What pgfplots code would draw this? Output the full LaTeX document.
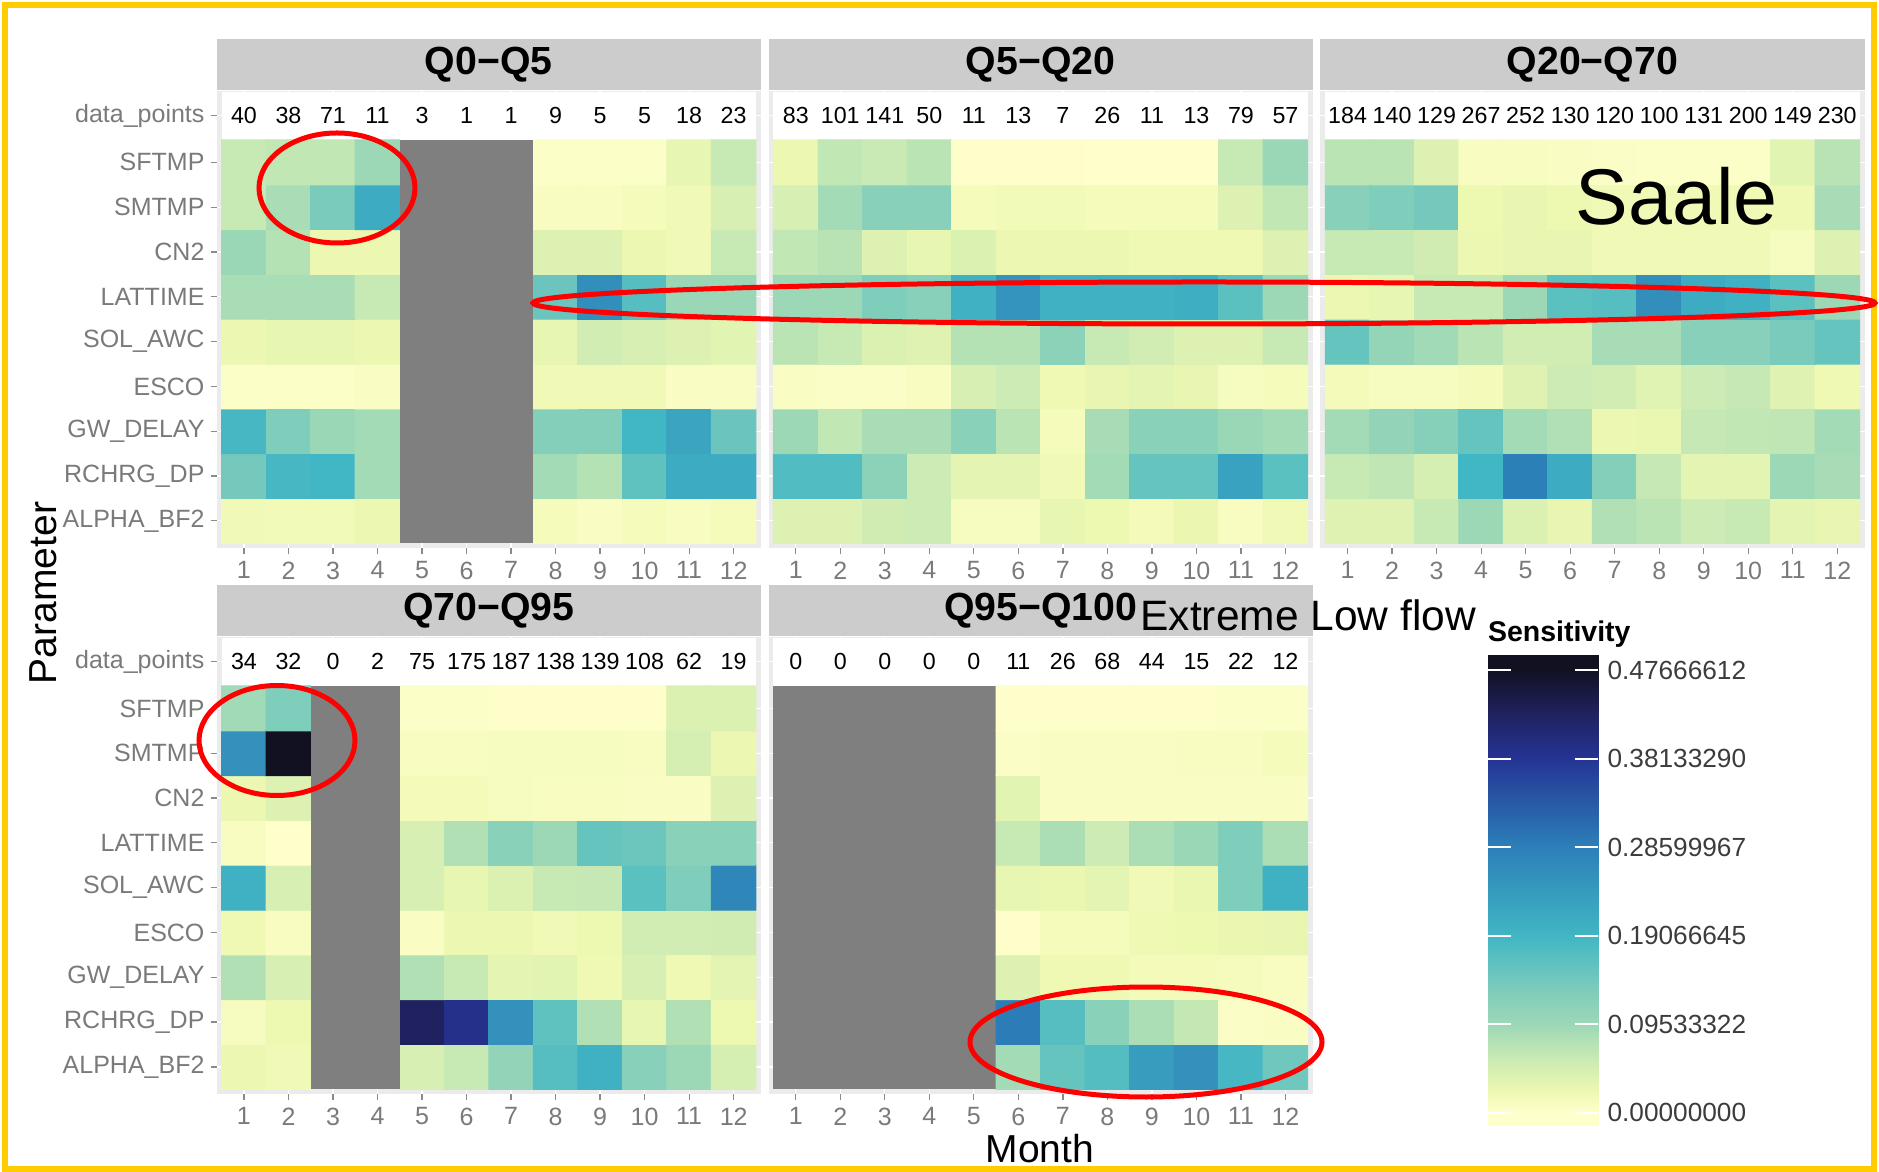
\documentclass[border=0pt]{standalone}
\usepackage{fontspec}
\setmainfont{Liberation Sans}
\usepackage{pgfplots}
\pgfplotsset{compat=1.18}

\definecolor{stripgray}{HTML}{CCCCCC}
\definecolor{panelgray}{HTML}{EBEBEB}
\definecolor{nagray}{HTML}{7F7F7F}
\definecolor{ticklab}{HTML}{7A7A7A}
\definecolor{tickgray}{HTML}{8A8A8A}
\definecolor{leglab}{HTML}{3C3C3C}
\definecolor{goldframe}{HTML}{FFCC00}

\newcommand\tickfont{\fontsize{10}{12}\selectfont}
\newcommand\numfont{\fontsize{9.3}{11}\selectfont}
\newcommand\stripfont{\bfseries\fontsize{15.7}{18}\selectfont}

\pgfplotsset{
  colormap={sens}{rgb255(0pt)=(255,255,204) rgb255(14pt)=(255,255,204) rgb255(38pt)=(237,248,177) rgb255(74pt)=(199,233,180) rgb255(109pt)=(157,216,182) rgb255(144pt)=(127,205,187) rgb255(204pt)=(65,182,196) rgb255(300pt)=(44,127,184) rgb255(395pt)=(37,52,148) rgb255(444pt)=(32,34,95) rgb255(490pt)=(17,17,34) rgb255(506pt)=(17,17,34)},
  panel/.style={
    scale only axis, width=217.68pt, height=183.04pt,
    anchor=south west,
    xmin=0.388, xmax=12.612, ymin=0.388, ymax=10.60,
    axis line style={draw=none},
    axis background/.style={fill=panelgray},
    xmajorgrids, ymajorgrids, grid style={white, line width=0.5pt},
    xtick={1,2,3,4,5,6,7,8,9,10,11,12},
    xticklabels={1,2,3,4,5,6,7,8,9,10,11,12},
    ytick={1,2,3,4,5,6,7,8,9,10.04},
    yticklabels={},
    tick align=outside, major tick length=2.4pt, tick pos=left,
    tick style={draw=tickgray, line width=0.5pt},
    ytick style={draw=none},
    xticklabel style={font=\tickfont, text=ticklab, anchor=north, inner sep=0pt, yshift=-2.7pt},
    point meta min=-0.01368, point meta max=0.49261,
    every axis title/.style={at={(0.5,1)}, anchor=south, fill=stripgray, minimum width=217.68pt, minimum height=20.28pt, inner sep=0pt, font=\stripfont, text=black},
  },
  ylab/.style={
    yticklabels={ALPHA\_BF2,RCHRG\_DP,GW\_DELAY,ESCO,SOL\_AWC,LATTIME,CN2,SMTMP,SFTMP,data\_points},
    ytick style={draw=tickgray, line width=0.5pt},
    yticklabel style={font=\tickfont, text=ticklab, anchor=east, inner sep=0pt, xshift=-2.3pt},
  },
  nums/.style={only marks, mark=none, point meta=explicit symbolic, nodes near coords,
    nodes near coords style={font=\numfont, text=black, anchor=center, inner sep=0pt}},
}

\begin{document}
\begin{tikzpicture}
\useasboundingbox (0,0) rectangle (751.6pt,468.4pt);

% ---------------- Q0-Q5
\begin{axis}[panel, ylab, at={(86.68pt,249.08pt)}, title={Q0−Q5}]
\addplot[fill=white, draw=none] coordinates {(0.5,9.5) (12.5,9.5) (12.5,10.578) (0.5,10.578)} -- cycle;
\addplot[matrix plot*, mesh/cols=4, point meta=explicit] coordinates {
(1,1)[0.020] (2,1)[0.018] (3,1)[0.018] (4,1)[0.025]
(1,2)[0.140] (2,2)[0.185] (3,2)[0.190] (4,2)[0.090]
(1,3)[0.185] (2,3)[0.130] (3,3)[0.100] (4,3)[0.090]
(1,4)[0.005] (2,4)[0.005] (3,4)[0.005] (4,4)[0.008]
(1,5)[0.025] (2,5)[0.030] (3,5)[0.030] (4,5)[0.025]
(1,6)[0.085] (2,6)[0.085] (3,6)[0.085] (4,6)[0.060]
(1,7)[0.100] (2,7)[0.075] (3,7)[0.025] (4,7)[0.025]
(1,8)[0.060] (2,8)[0.085] (3,8)[0.135] (4,8)[0.210]
(1,9)[0.060] (2,9)[0.065] (3,9)[0.065] (4,9)[0.095]
};
\addplot[matrix plot*, mesh/cols=5, point meta=explicit] coordinates {
(8,1)[0.015] (9,1)[0.008] (10,1)[0.015] (11,1)[0.010] (12,1)[0.015]
(8,2)[0.090] (9,2)[0.075] (10,2)[0.160] (11,2)[0.210] (12,2)[0.210]
(8,3)[0.125] (9,3)[0.125] (10,3)[0.190] (11,3)[0.220] (12,3)[0.150]
(8,4)[0.020] (9,4)[0.020] (10,4)[0.020] (11,4)[0.008] (12,4)[0.008]
(8,5)[0.030] (9,5)[0.050] (10,5)[0.045] (11,5)[0.040] (12,5)[0.035]
(8,6)[0.150] (9,6)[0.260] (10,6)[0.170] (11,6)[0.100] (12,6)[0.100]
(8,7)[0.040] (9,7)[0.040] (10,7)[0.025] (11,7)[0.020] (12,7)[0.060]
(8,8)[0.010] (9,8)[0.010] (10,8)[0.015] (11,8)[0.020] (12,8)[0.045]
(8,9)[0.005] (9,9)[0.005] (10,9)[0.005] (11,9)[0.030] (12,9)[0.060]
};
\addplot[fill=nagray, draw=none] coordinates {(4.5,0.5) (7.5,0.5) (7.5,9.5) (4.5,9.5)} -- cycle;
\addplot[nums] coordinates {(1,10.04)[40] (2,10.04)[38] (3,10.04)[71] (4,10.04)[11] (5,10.04)[3] (6,10.04)[1] (7,10.04)[1] (8,10.04)[9] (9,10.04)[5] (10,10.04)[5] (11,10.04)[18] (12,10.04)[23]};
\end{axis}

% ---------------- Q5-Q20
\begin{axis}[panel, at={(307.4pt,249.08pt)}, title={Q5−Q20}]
\addplot[fill=white, draw=none] coordinates {(0.5,9.5) (12.5,9.5) (12.5,10.578) (0.5,10.578)} -- cycle;
\addplot[matrix plot*, mesh/cols=12, point meta=explicit] coordinates {
(1,1)[0.040] (2,1)[0.040] (3,1)[0.052] (4,1)[0.055] (5,1)[0.012] (6,1)[0.012] (7,1)[0.030] (8,1)[0.024] (9,1)[0.016] (10,1)[0.026] (11,1)[0.010] (12,1)[0.020]
(1,2)[0.175] (2,2)[0.175] (3,2)[0.115] (4,2)[0.055] (5,2)[0.033] (6,2)[0.033] (7,2)[0.020] (8,2)[0.090] (9,2)[0.155] (10,2)[0.155] (11,2)[0.225] (12,2)[0.165]
(1,3)[0.095] (2,3)[0.065] (3,3)[0.085] (4,3)[0.085] (5,3)[0.118] (6,3)[0.070] (7,3)[0.015] (8,3)[0.087] (9,3)[0.117] (10,3)[0.117] (11,3)[0.100] (12,3)[0.090]
(1,4)[0.008] (2,4)[0.006] (3,4)[0.006] (4,4)[0.010] (5,4)[0.045] (6,4)[0.055] (7,4)[0.022] (8,4)[0.028] (9,4)[0.033] (10,4)[0.028] (11,4)[0.012] (12,4)[0.015]
(1,5)[0.070] (2,5)[0.060] (3,5)[0.042] (4,5)[0.038] (5,5)[0.075] (6,5)[0.075] (7,5)[0.115] (8,5)[0.060] (9,5)[0.050] (10,5)[0.040] (11,5)[0.040] (12,5)[0.060]
(1,6)[0.095] (2,6)[0.095] (3,6)[0.130] (4,6)[0.120] (5,6)[0.200] (6,6)[0.250] (7,6)[0.200] (8,6)[0.200] (9,6)[0.200] (10,6)[0.205] (11,6)[0.165] (12,6)[0.095]
(1,7)[0.065] (2,7)[0.072] (3,7)[0.040] (4,7)[0.030] (5,7)[0.042] (6,7)[0.025] (7,7)[0.025] (8,7)[0.025] (9,7)[0.022] (10,7)[0.022] (11,7)[0.022] (12,7)[0.040]
(1,8)[0.045] (2,8)[0.090] (3,8)[0.120] (4,8)[0.120] (5,8)[0.015] (6,8)[0.018] (7,8)[0.018] (8,8)[0.015] (9,8)[0.015] (10,8)[0.015] (11,8)[0.040] (12,8)[0.065]
(1,9)[0.025] (2,9)[0.065] (3,9)[0.058] (4,9)[0.070] (5,9)[0.003] (6,9)[0.003] (7,9)[0.003] (8,9)[0.002] (9,9)[0.002] (10,9)[0.002] (11,9)[0.060] (12,9)[0.100]
};
\addplot[nums] coordinates {(1,10.04)[83] (2,10.04)[101] (3,10.04)[141] (4,10.04)[50] (5,10.04)[11] (6,10.04)[13] (7,10.04)[7] (8,10.04)[26] (9,10.04)[11] (10,10.04)[13] (11,10.04)[79] (12,10.04)[57]};
\end{axis}

% ---------------- Q20-Q70
\begin{axis}[panel, at={(528.12pt,249.08pt)}, title={Q20−Q70}]
\addplot[fill=white, draw=none] coordinates {(0.5,9.5) (12.5,9.5) (12.5,10.578) (0.5,10.578)} -- cycle;
\addplot[matrix plot*, mesh/cols=12, point meta=explicit] coordinates {
(1,1)[0.038] (2,1)[0.038] (3,1)[0.060] (4,1)[0.095] (5,1)[0.042] (6,1)[0.028] (7,1)[0.078] (8,1)[0.070] (9,1)[0.055] (10,1)[0.060] (11,1)[0.033] (12,1)[0.028]
(1,2)[0.060] (2,2)[0.067] (3,2)[0.047] (4,2)[0.190] (5,2)[0.285] (6,2)[0.210] (7,2)[0.125] (8,2)[0.062] (9,2)[0.033] (10,2)[0.033] (11,2)[0.095] (12,2)[0.087]
(1,3)[0.090] (2,3)[0.107] (3,3)[0.122] (4,3)[0.155] (5,3)[0.090] (6,3)[0.078] (7,3)[0.025] (8,3)[0.027] (9,3)[0.062] (10,3)[0.065] (11,3)[0.067] (12,3)[0.090]
(1,4)[0.016] (2,4)[0.012] (3,4)[0.012] (4,4)[0.016] (5,4)[0.038] (6,4)[0.055] (7,4)[0.050] (8,4)[0.037] (9,4)[0.055] (10,4)[0.062] (11,4)[0.038] (12,4)[0.022]
(1,5)[0.155] (2,5)[0.105] (3,5)[0.092] (4,5)[0.070] (5,5)[0.050] (6,5)[0.050] (7,5)[0.087] (8,5)[0.087] (9,5)[0.120] (10,5)[0.120] (11,5)[0.135] (12,5)[0.155]
(1,6)[0.025] (2,6)[0.030] (3,6)[0.060] (4,6)[0.060] (5,6)[0.095] (6,6)[0.165] (7,6)[0.170] (8,6)[0.260] (9,6)[0.210] (10,6)[0.200] (11,6)[0.165] (12,6)[0.095]
(1,7)[0.060] (2,7)[0.060] (3,7)[0.052] (4,7)[0.025] (5,7)[0.028] (6,7)[0.028] (7,7)[0.020] (8,7)[0.020] (9,7)[0.020] (10,7)[0.020] (11,7)[0.012] (12,7)[0.040]
(1,8)[0.120] (2,8)[0.130] (3,8)[0.140] (4,8)[0.024] (5,8)[0.028] (6,8)[0.024] (7,8)[0.020] (8,8)[0.020] (9,8)[0.020] (10,8)[0.020] (11,8)[0.022] (12,8)[0.087]
(1,9)[0.070] (2,9)[0.070] (3,9)[0.040] (4,9)[0.010] (5,9)[0.010] (6,9)[0.008] (7,9)[0.006] (8,9)[0.004] (9,9)[0.004] (10,9)[0.005] (11,9)[0.035] (12,9)[0.072]
};
\addplot[nums] coordinates {(1,10.04)[184] (2,10.04)[140] (3,10.04)[129] (4,10.04)[267] (5,10.04)[252] (6,10.04)[130] (7,10.04)[120] (8,10.04)[100] (9,10.04)[131] (10,10.04)[200] (11,10.04)[149] (12,10.04)[230]};
\end{axis}

% ---------------- Q70-Q95
\begin{axis}[panel, ylab, at={(86.68pt,30.68pt)}, title={Q70−Q95}]
\addplot[fill=white, draw=none] coordinates {(0.5,9.5) (12.5,9.5) (12.5,10.578) (0.5,10.578)} -- cycle;
\addplot[matrix plot*, mesh/cols=2, point meta=explicit] coordinates {
(1,1)[0.025] (2,1)[0.020]
(1,2)[0.012] (2,2)[0.024]
(1,3)[0.078] (2,3)[0.045]
(1,4)[0.022] (2,4)[0.010]
(1,5)[0.200] (2,5)[0.045]
(1,6)[0.010] (2,6)[0.002]
(1,7)[0.025] (2,7)[0.040]
(1,8)[0.255] (2,8)[0.4767]
(1,9)[0.092] (2,9)[0.130]
};
\addplot[matrix plot*, mesh/cols=8, point meta=explicit] coordinates {
(5,1)[0.045] (6,1)[0.060] (7,1)[0.107] (8,1)[0.170] (9,1)[0.200] (10,1)[0.120] (11,1)[0.095] (12,1)[0.047]
(5,2)[0.430] (6,2)[0.390] (7,2)[0.255] (8,2)[0.160] (9,2)[0.078] (10,2)[0.030] (11,2)[0.078] (12,2)[0.024]
(5,3)[0.078] (6,3)[0.060] (7,3)[0.033] (8,3)[0.035] (9,3)[0.022] (10,3)[0.045] (11,3)[0.022] (12,3)[0.033]
(5,4)[0.008] (6,4)[0.025] (7,4)[0.025] (8,4)[0.020] (9,4)[0.024] (10,4)[0.050] (11,4)[0.050] (12,4)[0.052]
(5,5)[0.045] (6,5)[0.030] (7,5)[0.042] (8,5)[0.060] (9,5)[0.062] (10,5)[0.165] (11,5)[0.130] (12,5)[0.275]
(5,6)[0.045] (6,6)[0.078] (7,6)[0.117] (8,6)[0.095] (9,6)[0.155] (10,6)[0.148] (11,6)[0.117] (12,6)[0.117]
(5,7)[0.016] (6,7)[0.016] (7,7)[0.012] (8,7)[0.010] (9,7)[0.010] (10,7)[0.008] (11,7)[0.008] (12,7)[0.040]
(5,8)[0.010] (6,8)[0.010] (7,8)[0.012] (8,8)[0.012] (9,8)[0.012] (10,8)[0.010] (11,8)[0.047] (12,8)[0.025]
(5,9)[0.004] (6,9)[0.004] (7,9)[0.003] (8,9)[0.003] (9,9)[0.003] (10,9)[0.003] (11,9)[0.042] (12,9)[0.042]
};
\addplot[fill=nagray, draw=none] coordinates {(2.5,0.5) (4.5,0.5) (4.5,9.5) (2.5,9.5)} -- cycle;
\addplot[nums] coordinates {(1,10.04)[34] (2,10.04)[32] (3,10.04)[0] (4,10.04)[2] (5,10.04)[75] (6,10.04)[175] (7,10.04)[187] (8,10.04)[138] (9,10.04)[139] (10,10.04)[108] (11,10.04)[62] (12,10.04)[19]};
\end{axis}

% ---------------- Q95-Q100
\begin{axis}[panel, at={(307.4pt,30.68pt)}, title={Q95−Q100}]
\addplot[fill=white, draw=none] coordinates {(0.5,9.5) (12.5,9.5) (12.5,10.578) (0.5,10.578)} -- cycle;
\addplot[fill=nagray, draw=none] coordinates {(0.5,0.5) (5.5,0.5) (5.5,9.5) (0.5,9.5)} -- cycle;
\addplot[matrix plot*, mesh/cols=7, point meta=explicit] coordinates {
(6,1)[0.090] (7,1)[0.155] (8,1)[0.172] (9,1)[0.235] (10,1)[0.255] (11,1)[0.185] (12,1)[0.145]
(6,2)[0.290] (7,2)[0.170] (8,2)[0.118] (9,2)[0.083] (10,2)[0.063] (11,2)[0.006] (12,2)[0.008]
(6,3)[0.040] (7,3)[0.022] (8,3)[0.022] (9,3)[0.016] (10,3)[0.016] (11,3)[0.014] (12,3)[0.010]
(6,4)[0.003] (7,4)[0.015] (8,4)[0.015] (9,4)[0.022] (10,4)[0.024] (11,4)[0.026] (12,4)[0.028]
(6,5)[0.030] (7,5)[0.027] (8,5)[0.033] (9,5)[0.020] (10,5)[0.027] (11,5)[0.130] (12,5)[0.200]
(6,6)[0.060] (7,6)[0.083] (8,6)[0.055] (9,6)[0.083] (10,6)[0.100] (11,6)[0.130] (12,6)[0.083]
(6,7)[0.035] (7,7)[0.008] (8,7)[0.008] (9,7)[0.008] (10,7)[0.008] (11,7)[0.008] (12,7)[0.008]
(6,8)[0.006] (7,8)[0.008] (8,8)[0.008] (9,8)[0.008] (10,8)[0.010] (11,8)[0.010] (12,8)[0.015]
(6,9)[0.003] (7,9)[0.003] (8,9)[0.003] (9,9)[0.003] (10,9)[0.003] (11,9)[0.004] (12,9)[0.004]
};
\addplot[nums] coordinates {(1,10.04)[0] (2,10.04)[0] (3,10.04)[0] (4,10.04)[0] (5,10.04)[0] (6,10.04)[11] (7,10.04)[26] (8,10.04)[68] (9,10.04)[44] (10,10.04)[15] (11,10.04)[22] (12,10.04)[12]};
\end{axis}

% ---------------- colour bar (own axis)
\begin{axis}[
  scale only axis, width=44.2pt, height=188pt,
  anchor=south west, at={(595pt,18.2pt)},
  xmin=0, xmax=1, ymin=-0.01368, ymax=0.49261,
  point meta min=-0.01368, point meta max=0.49261,
  axis line style={draw=none},
  xtick=\empty,
  ytick={0,0.09533322,0.19066645,0.28599967,0.38133290,0.47666612},
  yticklabels={0.00000000,0.09533322,0.19066645,0.28599967,0.38133290,0.47666612},
  major tick length=0pt,
  yticklabel pos=right,
  ytick style={draw=none},
  yticklabel style={font=\fontsize{10.5}{12}\selectfont, text=leglab, anchor=west, inner sep=0pt, xshift=3.6pt},
]
\addplot[surf, shader=interp, mesh/cols=2, point meta=y] coordinates {
(0,-0.01368) (1,-0.01368)
(0,0) (1,0)
(0,0.024) (1,0.024)
(0,0.060) (1,0.060)
(0,0.095) (1,0.095)
(0,0.130) (1,0.130)
(0,0.190) (1,0.190)
(0,0.286) (1,0.286)
(0,0.381) (1,0.381)
(0,0.430) (1,0.430)
(0,0.4767) (1,0.4767)
(0,0.49261) (1,0.49261)
};
\addplot[white, line width=0.7pt, mark=none, unbounded coords=jump, forget plot] coordinates {
(0,0) (0.212,0) (nan,nan) (0.788,0) (1,0) (nan,nan)
(0,0.09533322) (0.212,0.09533322) (nan,nan) (0.788,0.09533322) (1,0.09533322) (nan,nan)
(0,0.19066645) (0.212,0.19066645) (nan,nan) (0.788,0.19066645) (1,0.19066645) (nan,nan)
(0,0.28599967) (0.212,0.28599967) (nan,nan) (0.788,0.28599967) (1,0.28599967) (nan,nan)
(0,0.38133290) (0.212,0.38133290) (nan,nan) (0.788,0.38133290) (1,0.38133290) (nan,nan)
(0,0.47666612) (0.212,0.47666612) (nan,nan) (0.788,0.47666612) (1,0.47666612)
};
\end{axis}

% ---------------- texts
\node[rotate=90, anchor=base, inner sep=0pt, font=\fontsize{15.6}{18}\selectfont] at (22.5pt,231.2pt) {Parameter};
\node[anchor=base, inner sep=0pt, font=\fontsize{15.6}{18}\selectfont] at (416pt,3.6pt) {Month};
\node[anchor=base west, inner sep=0pt, font=\bfseries\fontsize{11.4}{13}\selectfont] at (595pt,211.6pt) {Sensitivity};
\node[anchor=base west, inner sep=0pt, font=\fontsize{31.6}{36}\selectfont] at (630pt,378.6pt) {Saale};
\node[anchor=base west, inner sep=0pt, font=\fontsize{17}{20}\selectfont] at (456pt,216pt) {Extreme Low flow};

% ---------------- annotations
\draw[goldframe, line width=2.4pt] (2pt,1pt) rectangle (749.6pt,466.5pt);
\draw[red, line width=2pt] (134.8pt,393.2pt) ellipse (31.2pt and 22pt);
\draw[red, line width=2pt] (110.8pt,172.2pt) ellipse (31.2pt and 22pt);
\draw[red, line width=2pt] (458.4pt,51.6pt) ellipse (70.4pt and 22pt);
\draw[red, line width=2pt] (481.6pt,347.2pt) ellipse (268.4pt and 8.4pt);
\end{tikzpicture}
\end{document}
